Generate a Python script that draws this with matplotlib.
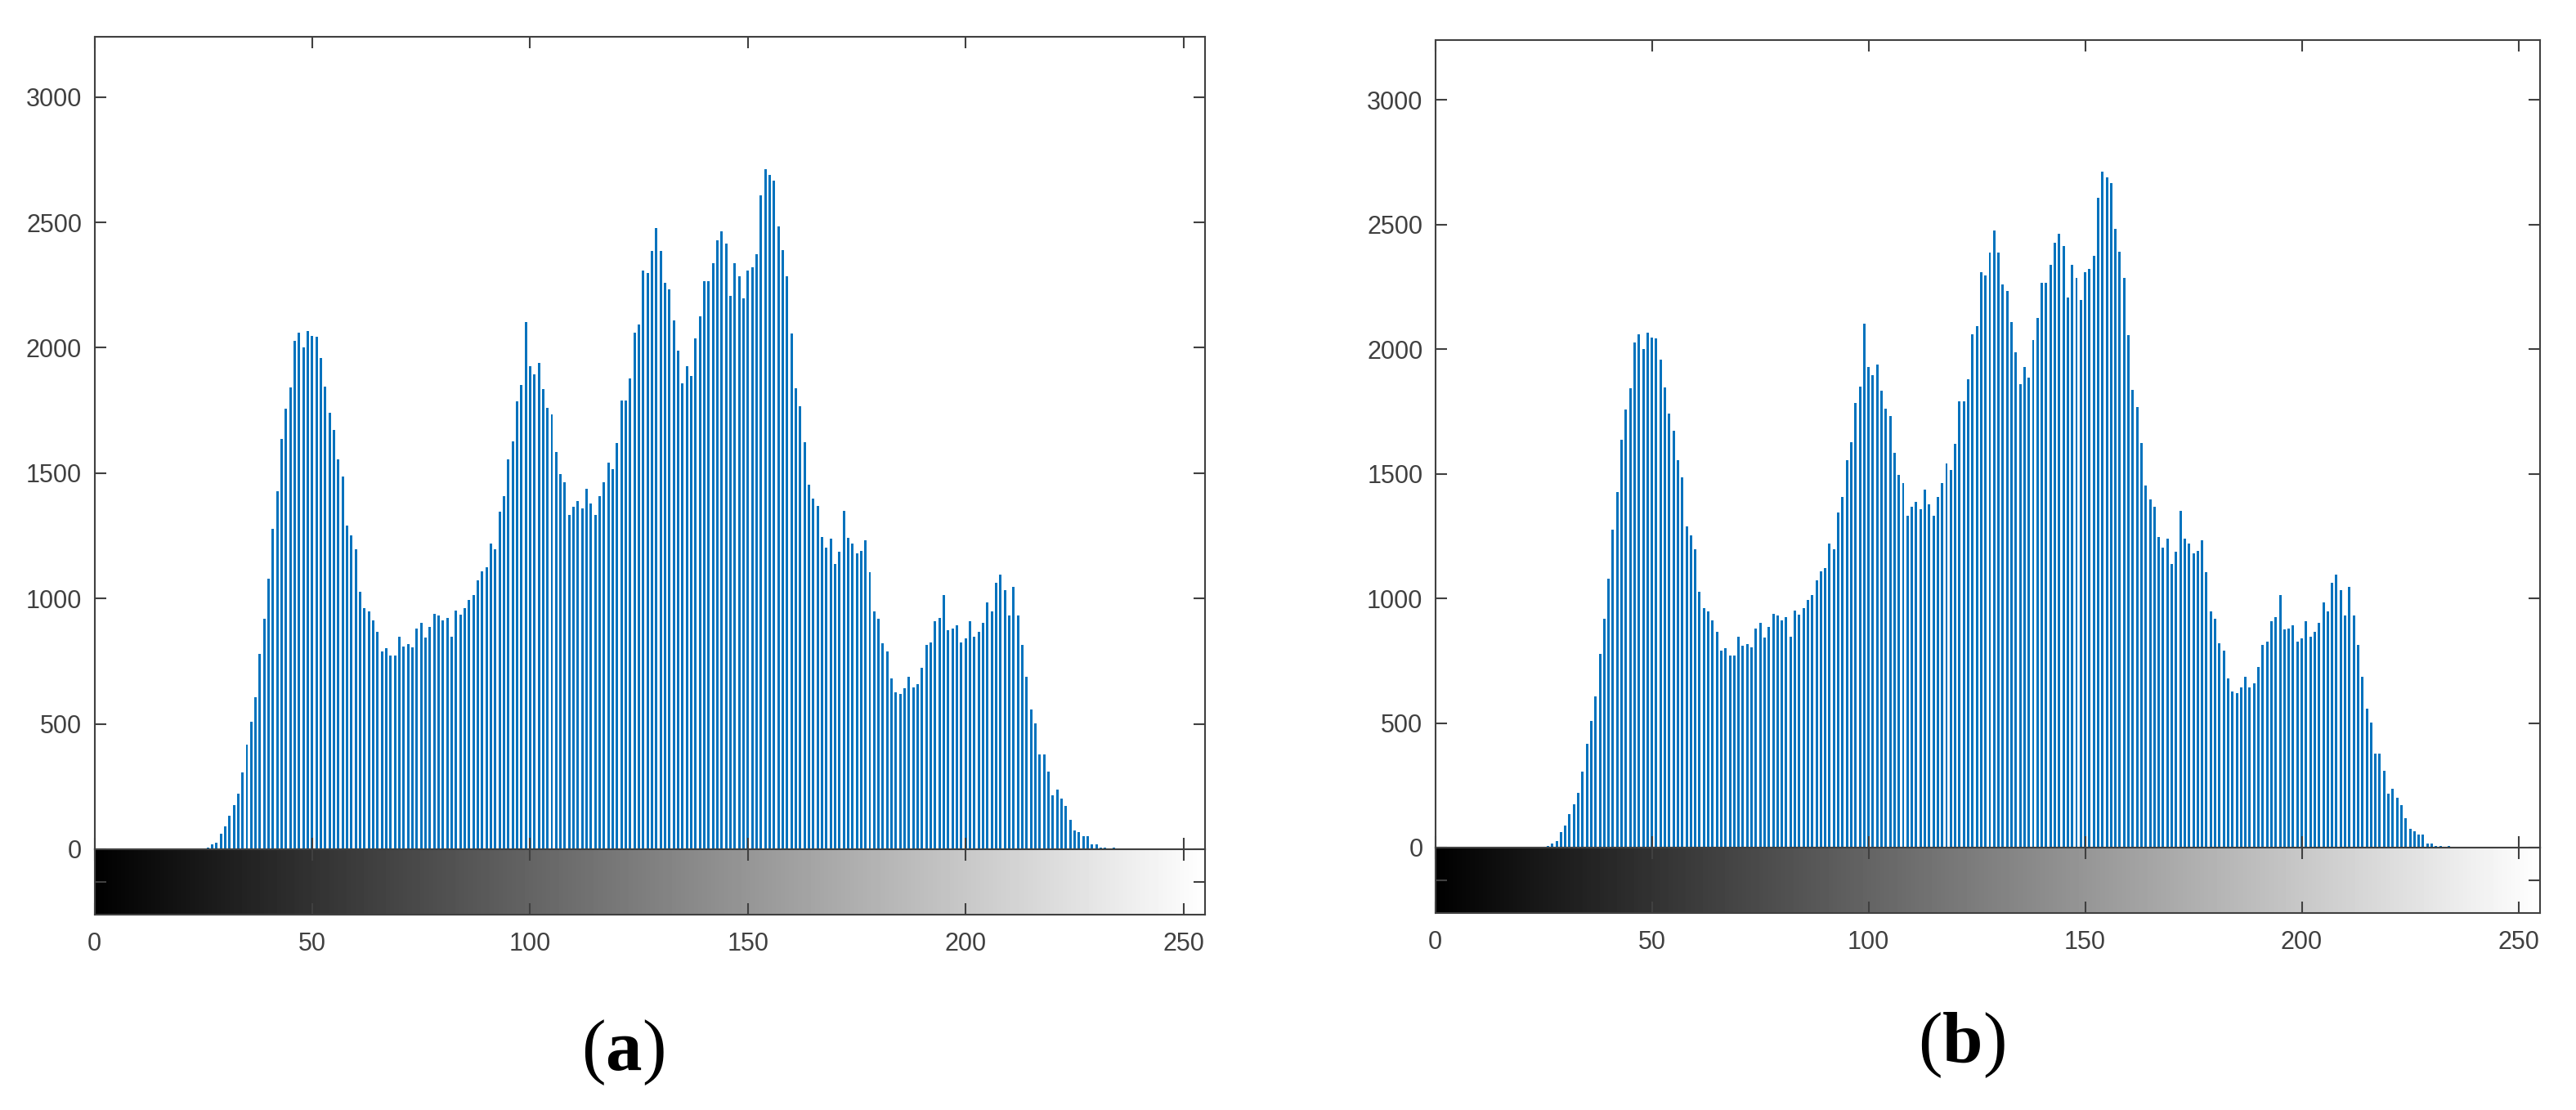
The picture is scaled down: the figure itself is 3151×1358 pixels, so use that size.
import numpy as np
import matplotlib
matplotlib.use('Agg')
import matplotlib.pyplot as plt

plt.rcParams['font.family'] = ['Liberation Sans', 'DejaVu Sans']
plt.rcParams['mathtext.fontset'] = 'custom'
plt.rcParams['mathtext.rm'] = 'Liberation Serif'
plt.rcParams['mathtext.bf'] = 'Liberation Serif:bold'

# grey-level histogram (same image in both panels), counts for levels 26..234
first_level = 26
counts = [
    5, 18, 25, 62, 90, 134, 175, 221, 306, 416,                 # 26-35
    508, 606, 778, 919, 1078, 1277, 1427, 1635, 1757, 1842,     # 36-45
    2028, 2060, 2001, 2066, 2046, 2044, 1959, 1845, 1740, 1671, # 46-55
    1554, 1485, 1290, 1252, 1196, 1026, 961, 948, 912, 867,     # 56-65
    789, 801, 772, 772, 847, 810, 818, 805, 879, 903,           # 66-75
    843, 886, 939, 932, 912, 924, 847, 952, 935, 961,           # 76-85
    993, 1013, 1073, 1107, 1123, 1219, 1196, 1346, 1407, 1554,  # 86-95
    1626, 1785, 1851, 2102, 1927, 1894, 1939, 1834, 1760, 1733, # 96-105
    1585, 1496, 1463, 1333, 1366, 1387, 1359, 1436, 1378, 1333, # 106-115
    1407, 1463, 1541, 1516, 1619, 1789, 1789, 1878, 2060, 2093, # 116-125
    2308, 2297, 2386, 2476, 2386, 2259, 2232, 2109, 1988, 1858, # 126-135
    1927, 1887, 2037, 2126, 2265, 2265, 2337, 2428, 2464, 2415, # 136-145
    2207, 2337, 2285, 2196, 2308, 2321, 2373, 2607, 2712, 2690, # 146-155
    2667, 2484, 2390, 2285, 2057, 1838, 1766, 1623, 1453, 1398, # 156-165
    1369, 1245, 1203, 1239, 1138, 1187, 1350, 1241, 1219, 1179, # 166-175
    1189, 1232, 1105, 948, 919, 821, 789, 680, 626, 619,        # 176-185
    642, 687, 644, 660, 724, 814, 825, 908, 924, 1013,          # 186-195
    874, 879, 892, 825, 841, 908, 847, 867, 903, 984,           # 196-205
    948, 1062, 1094, 1033, 932, 1046, 932, 814, 687, 557,       # 206-215
    501, 378, 378, 309, 215, 237, 201, 172, 118, 74,            # 216-225
    67, 51, 51, 18, 18, 5, 5, 2, 5,                             # 226-234
]
levels = np.arange(256)
hist = np.zeros(256)
hist[first_level:first_level + len(counts)] = counts

x_ticks = [0, 50, 100, 150, 200, 250]
y_ticks = [0, 500, 1000, 1500, 2000, 2500, 3000]
panel_labels = ['a', 'b']

bar_color = '#0072BD'
edge = '#404040'

W, H = 3151, 1358
fig = plt.figure(figsize=(W / 100, H / 100), dpi=100)


def px_box(left, right, top, bottom):
    return [left / W, 1 - bottom / H, (right - left) / W, (bottom - top) / H]


def style(ax):
    for s in ax.spines.values():
        s.set_color(edge)
        s.set_linewidth(1.5)
    ax.tick_params(direction='in', length=10, width=1.5, color=edge,
                   labelcolor=edge, labelsize=22)


def draw_panel(left, right, top, zero, bottom, label, label_xy):
    ax = fig.add_axes(px_box(left, right, top, zero))
    ax.bar(levels, hist, width=0.56, color=bar_color, linewidth=0)
    ax.set_xlim(0, 255)
    ax.set_ylim(0, 3240)
    ax.set_xticks(x_ticks)
    ax.set_yticks(y_ticks)
    style(ax)
    ax.tick_params(axis='x', top=True, bottom=True, labelbottom=False)
    ax.tick_params(axis='y', left=True, right=True, pad=11)

    cb = fig.add_axes(px_box(left, right, zero, bottom))
    cb.imshow(levels[None, :], cmap='gray', vmin=0, vmax=255, aspect='auto',
              extent=(0, 255, 0, 1), interpolation='nearest')
    cb.set_xlim(0, 255)
    cb.set_ylim(0, 1)
    cb.set_xticks(x_ticks)
    cb.set_yticks([0.5])
    style(cb)
    cb.tick_params(axis='x', top=True, bottom=True, pad=15)
    cb.tick_params(axis='y', left=True, right=True, labelleft=False)

    fig.text(label_xy[0] / W, 1 - label_xy[1] / H, '($\\mathbf{%s}$)' % label,
             ha='center', va='center', fontsize=64,
             family=['Liberation Serif'], color='black')


draw_panel(115.5, 1474.3, 45, 1039, 1119, panel_labels[0], (762, 1288))
draw_panel(1755.7, 3107, 49, 1037, 1117, panel_labels[1], (2399, 1279))

fig.savefig('out.png', dpi=100)
